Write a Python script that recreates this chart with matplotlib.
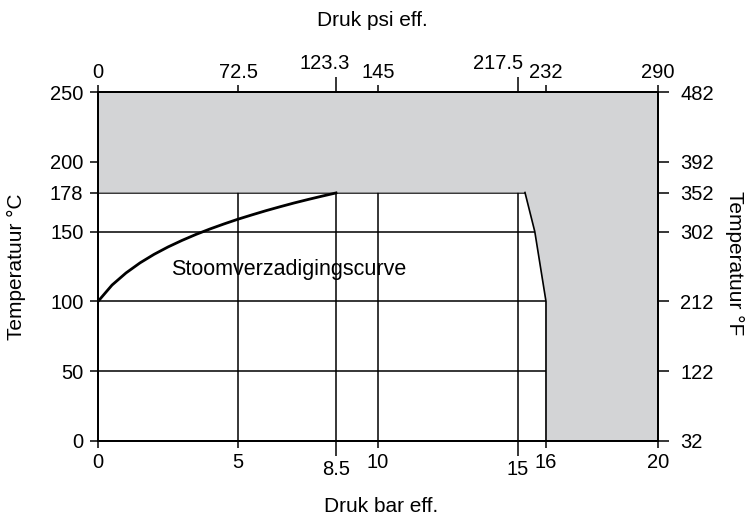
import matplotlib.pyplot as plt
from matplotlib.transforms import ScaledTranslation

plt.rcParams['font.family'] = ['Liberation Sans', 'DejaVu Sans']
plt.rcParams['font.size'] = 14.5

# verzadigingscurve (druk bar eff. -> temperatuur °C)
druk_bar = [0, 0.5, 1, 1.5, 2, 2.5, 3, 3.5, 4, 4.5, 5, 5.5, 6, 6.5, 7, 7.5, 8, 8.5]
temp_c = [100.0, 111.7, 120.4, 127.6, 133.7, 139.0, 143.7, 148.0, 151.9, 155.5,
          158.9, 162.0, 165.0, 167.8, 170.5, 173.0, 175.4, 177.7]

# grens van het grijze gebied (rechterkant)
grens_bar = [15.25, 15.6, 16, 16]
grens_c = [178, 150, 100, 0]

x_ticks = [0, 5, 10, 16, 20]
x_ticks_lang = [8.5, 15]
psi_ticks = [0, 5, 10, 16, 20]
psi_labels = ['0', '72.5', '145', '232', '290']
psi_ticks_lang = [8.5, 15]
psi_labels_lang = ['123.3', '217.5']
y_ticks = [0, 50, 100, 150, 178, 200, 250]
f_labels = ['32', '122', '212', '302', '352', '392', '482']

grijs = '#d3d4d6'

fig = plt.figure(figsize=(7.5, 5.19), dpi=100)
ax = fig.add_axes([0.1307, 0.1503, 0.7466, 0.6724])
ax.set_xlim(0, 20)
ax.set_ylim(0, 250)

# rasterlijnen
for x in [5, 8.5, 10, 15]:
    ax.plot([x, x], [0, 178], color='black', lw=1.1, zorder=1)
for y in [50, 100, 150, 178]:
    ax.plot([0, 16], [y, y], color='black', lw=1.1, zorder=1)

# grijs gebied
px = [0, 20, 20] + grens_bar[::-1] + [0]
py = [250, 250, 0] + grens_c[::-1] + [178]
ax.fill(px, py, color=grijs, lw=0, zorder=2)
ax.plot(grens_bar, grens_c, color='black', lw=1.2, zorder=3)

# curve
ax.plot(druk_bar, temp_c, color='black', lw=2, zorder=4)
ax.text(2.6, 122.5, 'Stoomverzadigingscurve', ha='left', va='center', fontsize=15.5)

for s in ax.spines.values():
    s.set_linewidth(1.2)
    s.set_zorder(5)

ax.set_xticks(x_ticks)
ax.set_xticklabels([str(v) for v in x_ticks])
ax.set_xticks(x_ticks_lang, minor=True)
ax.set_xticklabels(['8.5', '15'], minor=True)
ax.tick_params(axis='x', which='major', length=5, width=1.1, pad=4)
ax.tick_params(axis='x', which='minor', length=11, width=1.1, pad=3)
ax.set_yticks(y_ticks)
ax.tick_params(axis='y', length=5.5, width=1.1, pad=5)
ax.set_xlabel('Druk bar eff.', fontsize=15, va='center')
ax.xaxis.set_label_coords(0.506, -0.189)
ax.set_ylabel('Temperatuur °C', fontsize=15, va='center')
ax.yaxis.set_label_coords(-0.146, 0.5)

top = ax.twiny()
top.set_xlim(0, 20)
top.set_xticks(psi_ticks)
top.set_xticklabels(psi_labels)
top.set_xticks(psi_ticks_lang, minor=True)
top.set_xticklabels(psi_labels_lang, minor=True)
top.tick_params(axis='x', which='major', length=5, width=1.1, pad=2)
top.tick_params(axis='x', which='minor', length=11, width=1.1, pad=3)
top.set_xlabel('Druk psi eff.', fontsize=15, va='center')
top.xaxis.set_label_coords(0.49, 1.206)

# labels 123.3 en 217.5 staan iets naar links
for lab, dx in zip(top.get_xticklabels(minor=True), [-8.5, -14.5]):
    lab.set_transform(lab.get_transform() + ScaledTranslation(dx / 72, 0, fig.dpi_scale_trans))

right = ax.twinx()
right.set_ylim(0, 250)
right.set_yticks(y_ticks)
right.set_yticklabels(f_labels)
right.tick_params(axis='y', length=8, width=1.1, pad=8)
right.set_ylabel('Temperatuur °F', fontsize=15, rotation=270, va='center')
right.yaxis.set_label_coords(1.1375, 0.51)

for a in (top, right):
    for s in a.spines.values():
        s.set_linewidth(1.2)

fig.savefig('out.png', dpi=100)
